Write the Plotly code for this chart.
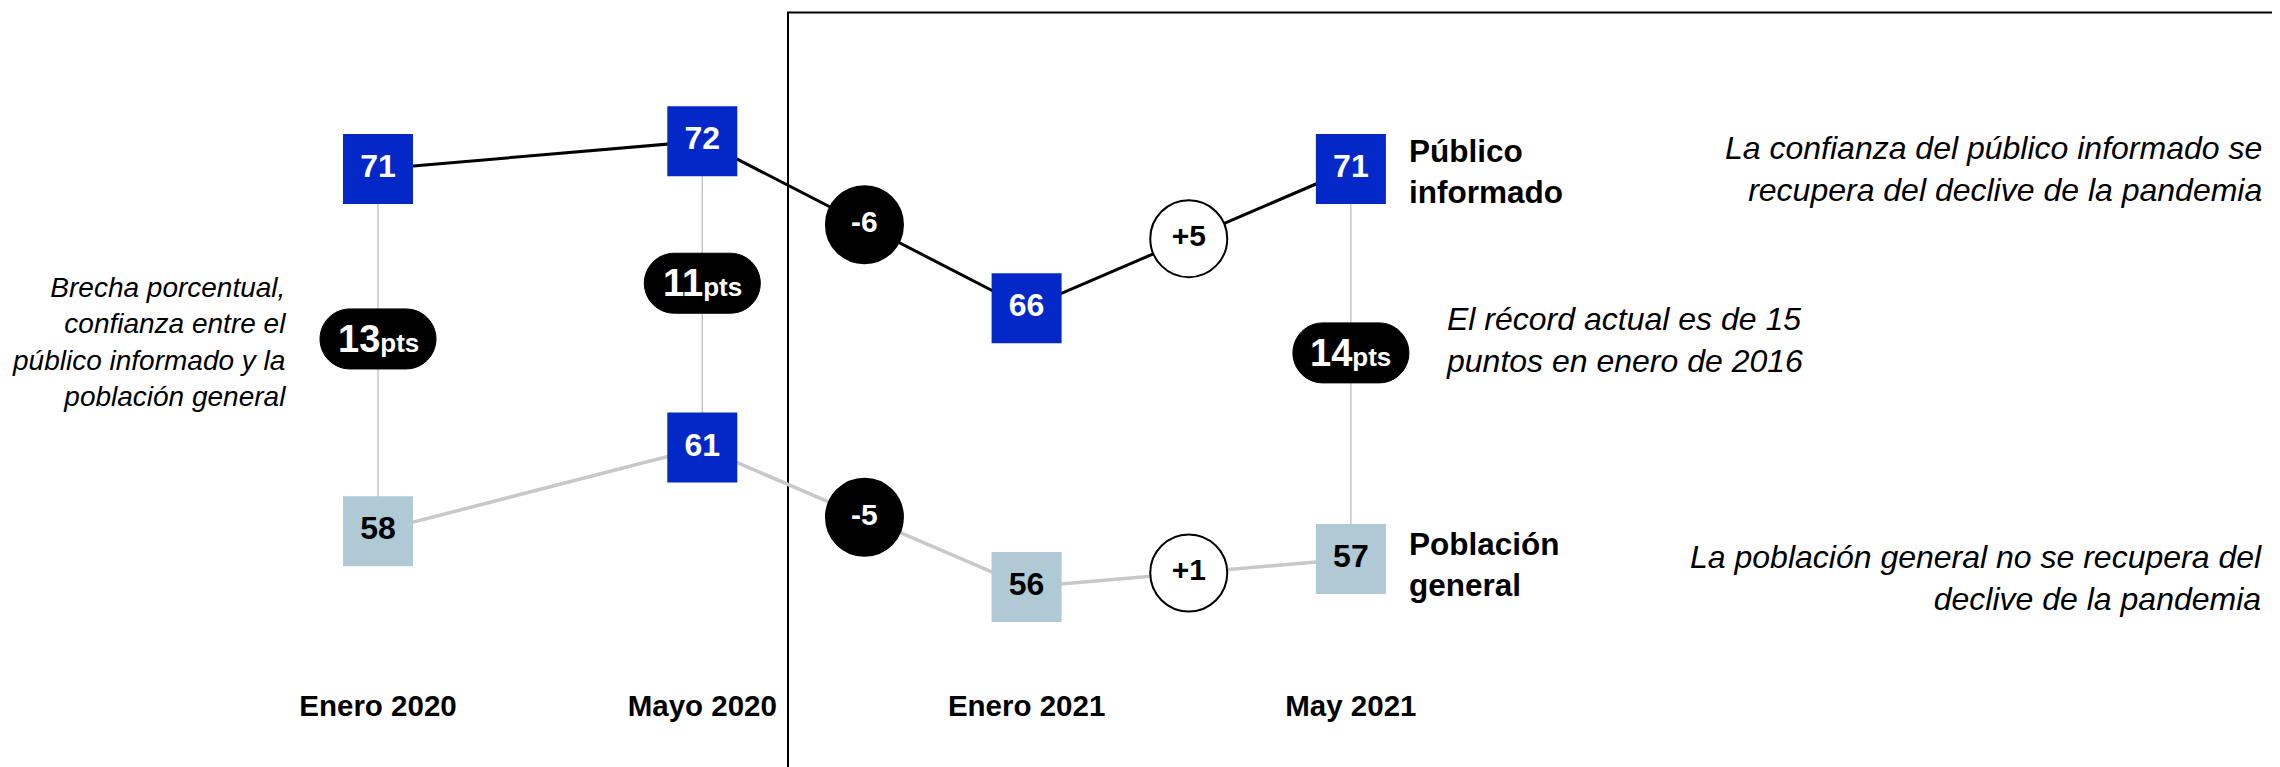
import plotly.graph_objects as go

# data
periods = ["Enero 2020", "Mayo 2020", "Enero 2021", "May 2021"]
informed = [71, 72, 66, 71]
general = [58, 61, 56, 57]
general_highlight = [False, True, False, False]
gap_periods = [0, 1, 3]
change_pairs = [(1, 2), (2, 3)]

W, H = 2280, 767
M_B = 90
# page body adds an 8px offset, ranges below compensate for it
X_RANGE = [-1.1409, 5.8896]
Y_RANGE = [52.479, 76.779]

BLUE = "#0428C8"
LIGHT = "#B0CAD5"
GREY = "#BDBDBD"
FONT = "Liberation Sans, Arial, sans-serif"

px_x = W / (X_RANGE[1] - X_RANGE[0])
px_y = (H - M_B) / (Y_RANGE[1] - Y_RANGE[0])


def pill_path(xc, yc, half_w=58, half_h=30):
    k = 0.5523
    hx, hy = half_h / px_x, half_h / px_y
    s = (half_w - half_h) / px_x
    r, l = xc + s, xc - s
    t, b = yc + hy, yc - hy
    return (
        f"M{l},{t} L{r},{t} "
        f"C{r + k * hx},{t} {r + hx},{yc + k * hy} {r + hx},{yc} "
        f"C{r + hx},{yc - k * hy} {r + k * hx},{b} {r},{b} "
        f"L{l},{b} "
        f"C{l - k * hx},{b} {l - hx},{yc - k * hy} {l - hx},{yc} "
        f"C{l - hx},{yc + k * hy} {l - k * hx},{t} {l},{t} Z"
    )


fig = go.Figure()

# vertical connectors between the two series
for i in gap_periods:
    fig.add_trace(go.Scatter(x=[i, i], y=[informed[i], general[i]], mode="lines",
                             line=dict(color=GREY, width=1.3), hoverinfo="skip"))

xs = list(range(len(periods)))
fig.add_trace(go.Scatter(x=xs, y=general, mode="lines",
                         line=dict(color="#C8C8C8", width=3.5), hoverinfo="skip"))
fig.add_trace(go.Scatter(x=xs, y=informed, mode="lines",
                         line=dict(color="black", width=3), hoverinfo="skip"))

# change circles
for series in (informed, general):
    cx, cy, ct, fills, tcols = [], [], [], [], []
    for a, b in change_pairs:
        d = series[b] - series[a]
        cx.append((a + b) / 2)
        cy.append((series[a] + series[b]) / 2)
        ct.append(f"<b>{d:+d}</b>")
        fills.append("black" if d < 0 else "white")
        tcols.append("white" if d < 0 else "black")
    fig.add_trace(go.Scatter(
        x=cx, y=cy, mode="markers+text", text=ct, textposition="middle center",
        marker=dict(symbol="circle", size=77, color=fills, line=dict(color="black", width=2)),
        textfont=dict(family=FONT, size=30, color=tcols), hoverinfo="skip"))

# value boxes
fig.add_trace(go.Scatter(
    x=xs, y=informed, mode="markers+text", text=[f"<b>{v}</b>" for v in informed],
    textposition="middle center",
    marker=dict(symbol="square", size=70, color=BLUE),
    textfont=dict(family=FONT, size=32, color="white"), hoverinfo="skip"))
fig.add_trace(go.Scatter(
    x=xs, y=general, mode="markers+text", text=[f"<b>{v}</b>" for v in general],
    textposition="middle center",
    marker=dict(symbol="square", size=70,
                color=[BLUE if h else LIGHT for h in general_highlight]),
    textfont=dict(family=FONT, size=32,
                  color=["white" if h else "black" for h in general_highlight]),
    hoverinfo="skip"))

shapes = []
annotations = []

# gap pills
pill_y = {}
for i in gap_periods:
    yc = (informed[i] + general[i]) / 2 + 0.4
    pill_y[i] = yc
    shapes.append(dict(type="path", path=pill_path(i, yc), xref="x", yref="y",
                       fillcolor="black", line=dict(color="black", width=1), layer="above"))
    annotations.append(dict(
        x=i, y=yc, xref="x", yref="y", showarrow=False,
        text=f"<b>{informed[i] - general[i]}<span style='font-size:26px'>pts</span></b>",
        font=dict(family=FONT, size=38, color="white")))

# frame on the right half
shapes.append(dict(type="rect", xref="paper", yref="paper", x0=780 / W, x1=1.1,
                   y0=-0.3, y1=(H - M_B - 4.5) / (H - M_B),
                   line=dict(color="black", width=2), layer="below"))

annotations += [
    dict(x=0, y=pill_y[0], xref="x", yref="y", xanchor="right", xshift=-90, align="right",
         yshift=-3, showarrow=False,
         text="<i>Brecha porcentual,<br>confianza entre el<br>público informado y la<br>población general</i>",
         font=dict(family=FONT, size=28, color="black")),
    dict(x=3, y=informed[3], xref="x", yref="y", xanchor="left", xshift=56, align="left",
         yshift=-2, showarrow=False, text="<b>Público<br>informado</b>",
         font=dict(family=FONT, size=31.5, color="black")),
    dict(x=3, y=general[3], xref="x", yref="y", xanchor="left", xshift=56, align="left",
         yshift=-5, showarrow=False, text="<b>Población<br>general</b>",
         font=dict(family=FONT, size=31.5, color="black")),
    dict(x=3, y=pill_y[3], xref="x", yref="y", xanchor="left", xshift=93, align="left",
         yshift=13, showarrow=False, text="<i>El récord actual es de 15<br>puntos en enero de 2016</i>",
         font=dict(family=FONT, size=32, color="black")),
    dict(x=2256 / W, y=informed[3], xref="paper", yref="y", xanchor="right", align="right",
         showarrow=False,
         text="<i>La confianza del público informado se<br>recupera del declive de la pandemia</i>",
         font=dict(family=FONT, size=32, color="black")),
    dict(x=2256 / W, y=general[3], xref="paper", yref="y", xanchor="right", align="right",
         yshift=-19, showarrow=False,
         text="<i>La población general no se recupera del<br>declive de la pandemia</i>",
         font=dict(family=FONT, size=32, color="black")),
]

fig.update_layout(
    width=W, height=H, showlegend=False,
    margin=dict(l=0, r=0, t=0, b=M_B),
    paper_bgcolor="white", plot_bgcolor="white",
    shapes=shapes, annotations=annotations,
    font=dict(family=FONT, color="black"),
)
fig.update_xaxes(range=X_RANGE, tickvals=xs, ticktext=[f"<b>{p}</b>" for p in periods],
                 tickfont=dict(family=FONT, size=29.5, color="black"),
                 showgrid=False, zeroline=False, showline=False, ticks="")
fig.update_yaxes(range=Y_RANGE, visible=False, showgrid=False, zeroline=False)

fig.write_html("out.html")
